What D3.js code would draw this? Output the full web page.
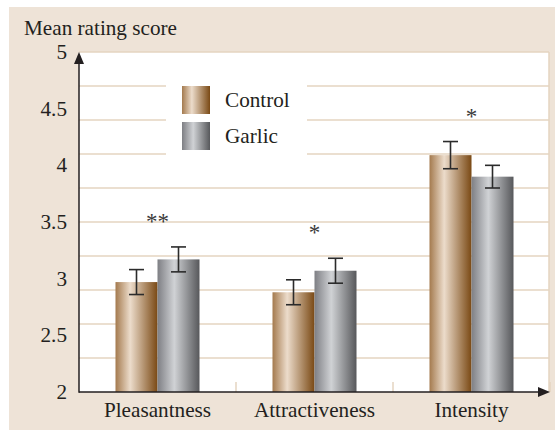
<!DOCTYPE html>
<html><head><meta charset="utf-8">
<script src="https://cdn.jsdelivr.net/npm/d3@7"></script>
<style>body{margin:0;background:#fff}svg{display:block}text{font-family:"Liberation Serif","Times New Roman",serif;fill:#231f20}</style>
</head><body>
<svg id="c" width="555" height="431"></svg>
<script>
const categories = ["Pleasantness", "Attractiveness", "Intensity"];
const series = ["Control", "Garlic"];
const controlValues = [2.97, 2.88, 4.09];
const controlErrors = [0.11, 0.11, 0.12];
const garlicValues = [3.17, 3.07, 3.90];
const garlicErrors = [0.11, 0.11, 0.10];
const significance = ["**", "*", "*"];
const yTicks = [2, 2.5, 3, 3.5, 4, 4.5, 5];
const yGrid = [2.3, 2.6, 2.9, 3.2, 3.5, 3.8, 4.1, 4.4, 4.7, 5.0];

const FS = 21.2;
const svg = d3.select("#c");
const L = 79, R = 550, T = 52, B = 392;
svg.append("rect").attr("x", 9).attr("y", 7).attr("width", 546).attr("height", 423).attr("fill", "#eee3d7");
svg.append("rect").attr("x", L).attr("y", T).attr("width", 470).attr("height", B - T).attr("fill", "#fff");

const defs = svg.append("defs");
function grad(id, stops) {
  const g = defs.append("linearGradient").attr("id", id).attr("x1", 0).attr("x2", 1).attr("y1", 0).attr("y2", 0);
  stops.forEach(s => g.append("stop").attr("offset", s[0]).attr("stop-color", s[1]));
}
grad("gControl", [[0, "#a47a4e"], [0.35, "#ecdccb"], [1, "#7a4914"]]);
grad("gGarlic", [[0, "#7e7f84"], [0.4, "#d0d2d5"], [1, "#57585b"]]);

const y = d3.scaleLinear().domain([2, 5]).range([B, T]);
const x0 = d3.scaleBand().domain(categories).range([L, R]).paddingInner(0).paddingOuter(0);
const bw = 42;

// gridlines
svg.append("g").selectAll("line").data(yGrid).join("line")
  .attr("x1", L).attr("x2", 549).attr("y1", d => y(d)).attr("y2", d => y(d))
  .attr("stroke", "#e5d4c1").attr("stroke-width", 1.5);
svg.append("line").attr("x1", 549).attr("x2", 549).attr("y1", T).attr("y2", B).attr("stroke", "#e5d4c1").attr("stroke-width", 1.5);
// small x separators
svg.append("g").selectAll("line").data(categories.slice(1).concat(["end"])).join("line")
  .attr("x1", (d, i) => L + x0.bandwidth() * (i + 1)).attr("x2", (d, i) => L + x0.bandwidth() * (i + 1))
  .attr("y1", B - 10).attr("y2", B).attr("stroke", "#e5d4c1").attr("stroke-width", 1.5);

// legend background
svg.append("rect").attr("x", 166).attr("y", 70).attr("width", 141).attr("height", 90).attr("fill", "#fff");

// bars
const data = categories.map((c, i) => ({c, vals: [
  {s: "Control", v: controlValues[i], e: controlErrors[i]},
  {s: "Garlic", v: garlicValues[i], e: garlicErrors[i]}]}));
const grp = svg.append("g").selectAll("g").data(data).join("g")
  .attr("transform", d => `translate(${x0(d.c) + x0.bandwidth() / 2},0)`);
grp.selectAll("rect").data(d => d.vals).join("rect")
  .attr("x", (d, i) => i === 0 ? -bw : 0).attr("width", bw)
  .attr("y", d => y(d.v)).attr("height", d => B - y(d.v))
  .attr("fill", d => d.s === "Control" ? "url(#gControl)" : "url(#gGarlic)");
const eb = grp.selectAll("g.eb").data(d => d.vals).join("g").attr("class", "eb")
  .attr("transform", (d, i) => `translate(${i === 0 ? -bw / 2 : bw / 2},0)`)
  .attr("stroke", "#2b2b2b").attr("stroke-width", 1.6);
eb.append("line").attr("y1", d => y(d.v + d.e)).attr("y2", d => y(d.v - d.e));
eb.append("line").attr("x1", -7.5).attr("x2", 7.5).attr("y1", d => y(d.v + d.e)).attr("y2", d => y(d.v + d.e));
eb.append("line").attr("x1", -7.5).attr("x2", 7.5).attr("y1", d => y(d.v - d.e)).attr("y2", d => y(d.v - d.e));
grp.append("text").attr("text-anchor", "middle")
  .attr("y", (d, i) => y(Math.max(d.vals[0].v + d.vals[0].e, d.vals[1].v + d.vals[1].e)) - 18)
  .attr("font-size", 23).style("fill", "#3a3a3a").text((d, i) => significance[i]);

// axes
const yAxis = d3.axisLeft(y).tickValues(yTicks).tickSize(0).tickPadding(12).tickFormat(d3.format(""));
const ya = svg.append("g").attr("transform", `translate(${L},0)`).call(yAxis);
ya.select(".domain").remove();
ya.selectAll("text").attr("font-size", FS).attr("dy", "0.3em").style("font-family", '"Liberation Serif",serif');
const xAxis = d3.axisBottom(x0).tickSize(0).tickPadding(9);
const xa = svg.append("g").attr("transform", `translate(0,${B})`).call(xAxis);
xa.select(".domain").remove();
xa.selectAll("text").attr("font-size", FS).attr("dy", "0.75em").style("font-family", '"Liberation Serif",serif');

svg.append("line").attr("x1", L).attr("x2", L).attr("y1", B + 0.75).attr("y2", T + 8).attr("stroke", "#231f20").attr("stroke-width", 1.5);
svg.append("path").attr("d", `M${L - 5},${T + 12}L${L},${T}L${L + 5},${T + 12}Z`).attr("fill", "#231f20");
svg.append("line").attr("x1", L).attr("x2", R - 8).attr("y1", B).attr("y2", B).attr("stroke", "#231f20").attr("stroke-width", 1.5);
svg.append("path").attr("d", `M${R - 12},${B - 5}L${R},${B}L${R - 12},${B + 5}Z`).attr("fill", "#231f20");

svg.append("text").attr("x", 24).attr("y", 35).attr("font-size", FS).text("Mean rating score");

// legend
const lg = svg.append("g").selectAll("g").data(series).join("g")
  .attr("transform", (d, i) => `translate(182,${86 + i * 36})`);
lg.append("rect").attr("width", 28).attr("height", 28).attr("fill", d => d === "Control" ? "url(#gControl)" : "url(#gGarlic)");
lg.append("text").attr("x", 43).attr("y", 21).attr("font-size", FS).text(d => d);
</script>
</body></html>
